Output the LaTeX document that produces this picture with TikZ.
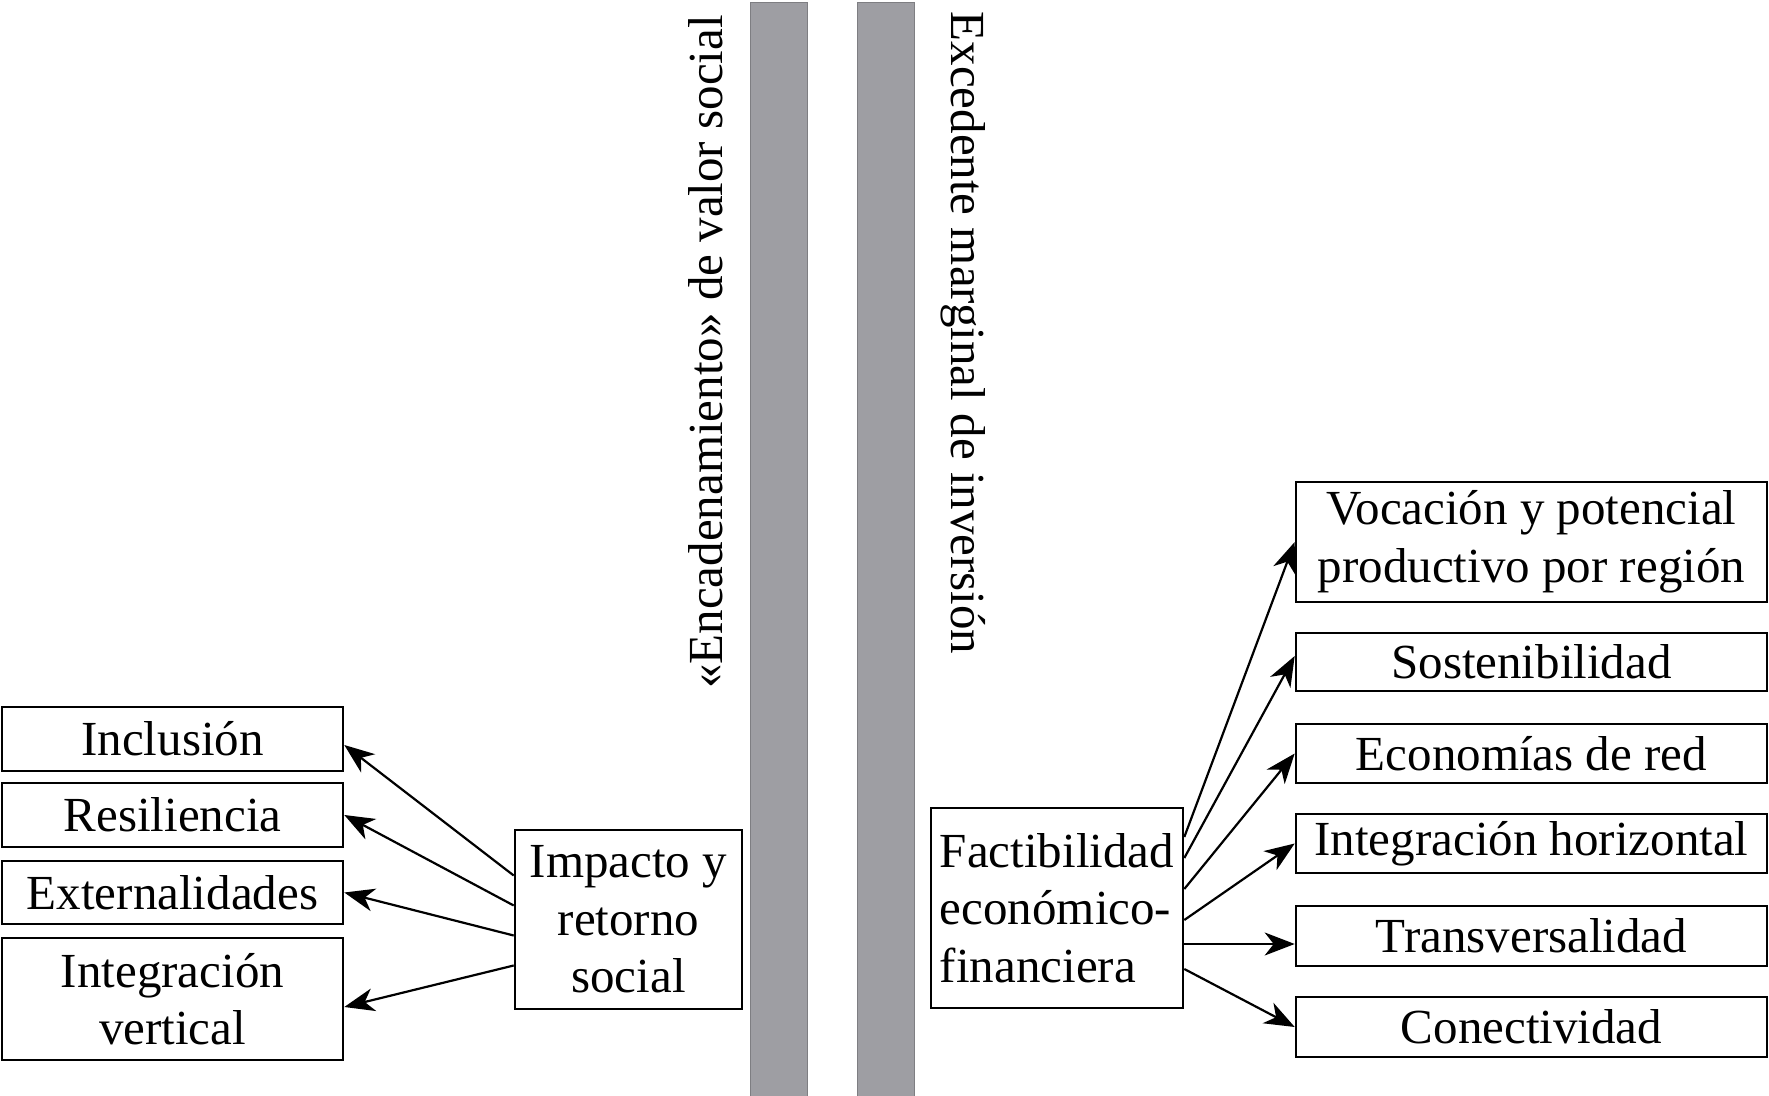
\documentclass[tikz,border=0pt]{standalone}
\usepackage{fontspec}
\setmainfont{Liberation Serif}
\usetikzlibrary{arrows.meta}
\definecolor{bargray}{RGB}{158,158,163}
\begin{document}
\begin{tikzpicture}[x=0.5pt,y=-0.5pt]

      \useasboundingbox (0,0) rectangle (1769,1096);

      % bars
      \fill[bargray,draw=bargray!80!black,line width=0.4pt] (750,2) rectangle (807,1096);
      \fill[bargray,draw=bargray!80!black,line width=0.4pt] (857,2) rectangle (914,1096);

      \begin{scope}[every node/.style={font=\fontsize{24.5}{28.75}\selectfont}]
        \node (t1) at (706,352) [rotate=90] {«Encadenamiento» de valor social};
        \node (t2) at (963,333) [rotate=-90] {Excedente marginal de inversión};
      \end{scope}

      \begin{scope}[every node/.style={draw,line width=1.3pt,inner sep=0pt,
          font=\fontsize{24.5}{28.75}\selectfont}]
        \node (1)  at (172.5,739)  [minimum width=170.5pt,minimum height=32pt] {Inclusión};
        \node (2)  at (172.5,815)  [minimum width=170.5pt,minimum height=32pt] {Resiliencia};
        \node (3)  at (172.5,892.5)  [minimum width=170.5pt,minimum height=31.5pt] {Externalidades};
        \node (4)  at (172.5,999)  [minimum width=170.5pt,minimum height=61pt,align=center] {Integración\\vertical};
        \node (5)  at (628.5,919.5)  [minimum width=113.5pt,minimum height=89.5pt,align=center] {Impacto y\\retorno\\social};
        \node (6)  at (1057,908)  [minimum width=126pt,minimum height=100pt,align=left] {Factibilidad\\económico-\\financiera};
        \node (7)  at (1531.5,542)  [minimum width=235.5pt,minimum height=60pt,align=center] {Vocación y potencial\\productivo por región};
        \node (8)  at (1531.5,662)  [minimum width=235.5pt,minimum height=29pt] {Sostenibilidad};
        \node (9)  at (1531.5,753.5)  [minimum width=235.5pt,minimum height=29.5pt] {Economías de red};
        \node (10) at (1531.5,843.5)  [minimum width=235.5pt,minimum height=29.5pt] {Integración horizontal};
        \node (11) at (1531.5,936)  [minimum width=235.5pt,minimum height=30pt] {Transversalidad};
        \node (12) at (1531.5,1027)  [minimum width=235.5pt,minimum height=30pt] {Conectividad};
      \end{scope}

      \begin{scope}[every edge/.style={draw,line width=1.1pt,
          -{Stealth[length=15pt,width=11.5pt,inset=4.5pt]}}]
        \path ([yshift=22pt]5.west)  edge ([yshift=-3pt]1.east);
        \path ([yshift=7pt]5.west)  edge (2.east);
        \path ([yshift=-8pt]5.west)  edge (3.east);
        \path ([yshift=-23pt]5.west)  edge ([yshift=-4pt]4.east);
        \path ([yshift=35.5pt]6.east)  edge (7.west);
        \path ([yshift=25pt]6.east)  edge ([yshift=3pt]8.west);
        \path ([yshift=9.5pt]6.east)  edge (9.west);
        \path ([yshift=-6pt]6.east)  edge (10.west);
        \path ([yshift=-18pt]6.east)  edge ([yshift=-4pt]11.west);
        \path ([yshift=-30.5pt]6.east)  edge (12.west);
      \end{scope}

    \end{tikzpicture}
\end{document}
